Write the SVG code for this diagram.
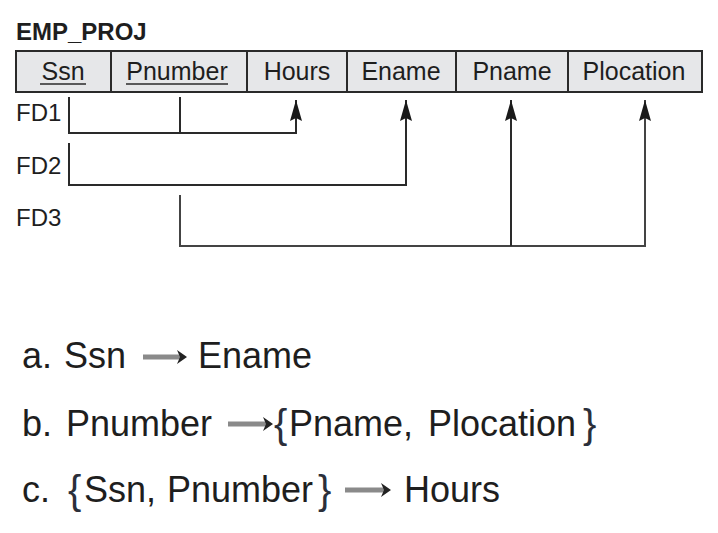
<svg xmlns="http://www.w3.org/2000/svg" width="718" height="533" viewBox="0 0 718 533">
<style>
text{font-family:"Liberation Sans",Arial,sans-serif;fill:#1e1e1e}
.title{font-size:24px;font-weight:bold}
.cell{fill:#e6e7e9;stroke:#2a2a2a;stroke-width:2}
.attr{font-size:25px;text-anchor:middle}
.fd{font-size:24px}
.ul{stroke:#2a2a2a;stroke-width:1.6}
.conn{fill:none;stroke:#2a2a2a;stroke-width:2}
.big{font-size:36px}
.brace{font-size:40px;fill:#2b2f3a}
.tshaft{stroke:#8a8a8a;stroke-width:5}
.thead{fill:#222}
</style>
<defs>
<marker id="ah" markerUnits="userSpaceOnUse" markerWidth="22" markerHeight="14" refX="21" refY="7" orient="auto" viewBox="0 0 22 14">
<polygon points="21,7 0,1 3,7 0,13" fill="#1a1a1a"/>
</marker>
</defs>
<g id="title"><text class="title" x="16" y="40">EMP_PROJ</text></g>
<g id="relation">
<g id="ssn"><rect class="cell" x="16" y="51" width="95" height="41"/><text class="attr" x="63" y="80">Ssn</text><line class="ul" x1="40" y1="84" x2="86" y2="84"/></g>
<g id="pnumber"><rect class="cell" x="111" y="51" width="136" height="41"/><text class="attr" x="177" y="80">Pnumber</text><line class="ul" x1="126" y1="84" x2="228" y2="84"/></g>
<g id="hours"><rect class="cell" x="247" y="51" width="100" height="41"/><text class="attr" x="297" y="80">Hours</text></g>
<g id="ename"><rect class="cell" x="347" y="51" width="109" height="41"/><text class="attr" x="401" y="80">Ename</text></g>
<g id="pname"><rect class="cell" x="456" y="51" width="112" height="41"/><text class="attr" x="512" y="80">Pname</text></g>
<g id="plocation"><rect class="cell" x="568" y="51" width="134" height="41"/><text class="attr" x="634" y="80">Plocation</text></g>
</g>
<g id="labels">
<text class="fd" x="16" y="121">FD1</text>
<text class="fd" x="16" y="174">FD2</text>
<text class="fd" x="16" y="226">FD3</text>
</g>
<g id="connectors">
<path class="conn" d="M69 97 V133 H296 V100" marker-end="url(#ah)"/>
<path class="conn" d="M180 97 V133"/>
<path class="conn" d="M69 143 V185 H406 V100" marker-end="url(#ah)"/>
<path class="conn" d="M180 195 V246 H645 V100" marker-end="url(#ah)" style="stroke:#444"/>
<path class="conn" d="M511 246 V100" marker-end="url(#ah)"/>
</g>
<g id="fds">
<g id="fd-a">
<text class="big" x="22" y="368">a.</text>
<text class="big" x="64" y="368">Ssn</text>
<line class="tshaft" x1="143" y1="357" x2="180" y2="357"/>
<polygon class="thead" points="177,350 187,357 177,364 180,357"/>
<text class="big" x="198" y="368">Ename</text>
</g>
<g id="fd-b">
<text class="big" x="22" y="436">b.</text>
<text class="big" x="66" y="436">Pnumber</text>
<line class="tshaft" x1="228" y1="424" x2="266" y2="424"/>
<polygon class="thead" points="263,417 273,424 263,431 266,424"/>
<text class="brace" x="274" y="438">{</text>
<text class="big" x="289" y="436">Pname,</text>
<text class="big" x="428" y="436">Plocation</text>
<text class="brace" x="583" y="438">}</text>
</g>
<g id="fd-c">
<text class="big" x="22" y="502">c.</text>
<text class="brace" x="68" y="504">{</text>
<text class="big" x="84" y="502">Ssn,</text>
<text class="big" x="167" y="502">Pnumber</text>
<text class="brace" x="318" y="504">}</text>
<line class="tshaft" x1="345" y1="490" x2="384" y2="490"/>
<polygon class="thead" points="381,483 391,490 381,497 384,490"/>
<text class="big" x="404" y="502">Hours</text>
</g>
</g>
</svg>
